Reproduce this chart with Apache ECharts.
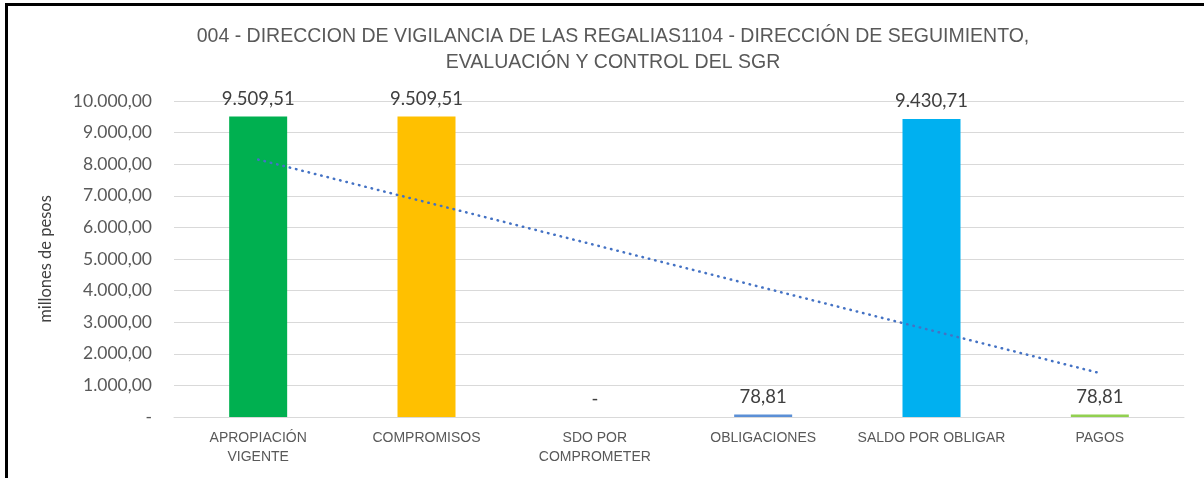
<!DOCTYPE html>
<html>
<head>
<meta charset="utf-8">
<script src="https://cdn.jsdelivr.net/npm/echarts@6/dist/echarts.min.js"></script>
<style>
  html, body { margin: 0; padding: 0; background: #fff; }
  #frame { position: absolute; left: 5px; top: 3px; width: 1199px; height: 475px;
           border-top: 3px solid #000; border-left: 3px solid #000; box-sizing: border-box; }
  #Chartbar { position: absolute; left: 0; top: 0; width: 1204px; height: 478px; }
</style>
</head>
<body>
<div id="frame"></div>
<div id="Chartbar"></div>
<script>
var categories = ['APROPIACIÓN\nVIGENTE', 'COMPROMISOS', 'SDO POR\nCOMPROMETER', 'OBLIGACIONES', 'SALDO POR OBLIGAR', 'PAGOS'];
var values = [9509.51, 9509.51, 0, 78.81, 9430.71, 78.81];
var yTicks = [0, 1000, 2000, 3000, 4000, 5000, 6000, 7000, 8000, 9000, 10000];
var barColors = ['#00B050', '#FFC000', '#A5A5A5', '#5B8FD6', '#00B0F0', '#92D050'];

// formato es-CO: 9.509,51 ; cero como "-"
function fmt(v) {
    if (v === 0) return '-';
    var parts = v.toFixed(2).split('.');
    return parts[0].replace(/\B(?=(\d{3})+(?!\d))/g, '.') + ',' + parts[1];
}

// linea de tendencia lineal (minimos cuadrados, como Excel)
function trend(ys) {
    var n = ys.length, sx = 0, sy = 0, sxy = 0, sxx = 0;
    ys.forEach(function (y, i) { var x = i + 1; sx += x; sy += y; sxy += x * y; sxx += x * x; });
    var b = (n * sxy - sx * sy) / (n * sxx - sx * sx);
    var a = (sy - b * sx) / n;
    return ys.map(function (y, i) { return a + b * (i + 1); });
}

window.onload = () => {
    var myChart = echarts.init(document.getElementById('Chartbar'));
    myChart.setOption({
        animation: false,
        title: {
            text: '004 - DIRECCION DE VIGILANCIA DE LAS REGALIAS1104 - DIRECCIÓN DE SEGUIMIENTO,\nEVALUACIÓN Y CONTROL DEL SGR',
            left: 608,
            textAlign: 'center',
            top: 19,
            textStyle: {
                fontFamily: 'Liberation Sans',
                fontWeight: 'normal',
                fontSize: 19.5,
                lineHeight: 26,
                color: '#595959'
            }
        },
        grid: { left: 174, right: 20, top: 101, bottom: 61 },
        xAxis: {
            type: 'category',
            data: categories,
            axisTick: { show: false },
            axisLine: { lineStyle: { color: '#D9D9D9', width: 1 } },
            axisLabel: {
                interval: 0,
                margin: 12,
                fontFamily: 'Liberation Sans',
                fontSize: 14,
                lineHeight: 19,
                color: '#595959'
            }
        },
        yAxis: {
            type: 'value',
            min: yTicks[0],
            max: yTicks[yTicks.length - 1],
            interval: 1000,
            name: 'millones de pesos',
            nameLocation: 'middle',
            nameRotate: 90,
            nameGap: 120,
            nameTextStyle: { fontFamily: 'Lato', fontSize: 16.5, color: '#404040' },
            axisLine: { show: false },
            axisTick: { show: false },
            splitLine: { lineStyle: { color: '#D9D9D9', width: 1 } },
            axisLabel: {
                margin: 22,
                formatter: fmt,
                fontFamily: 'Lato',
                fontSize: 17.5,
                color: '#595959'
            }
        },
        series: [{
            name: 'valor',
            type: 'bar',
            barWidth: 58,
            data: values.map(function (v, i) {
                return { value: v, itemStyle: { color: barColors[i] } };
            }),
            label: {
                show: true,
                position: 'top',
                distance: 8,
                formatter: function (p) { return fmt(p.value); },
                fontFamily: 'Lato',
                fontSize: 18.5,
                color: '#404040'
            },
            z: 2
        }, {
            name: 'tendencia',
            type: 'line',
            data: trend(values),
            symbol: 'none',
            lineStyle: { color: '#4472C4', width: 2.5, type: [0.5, 6], cap: 'round' },
            z: 3
        }]
    });
};
</script>
</body>
</html>
